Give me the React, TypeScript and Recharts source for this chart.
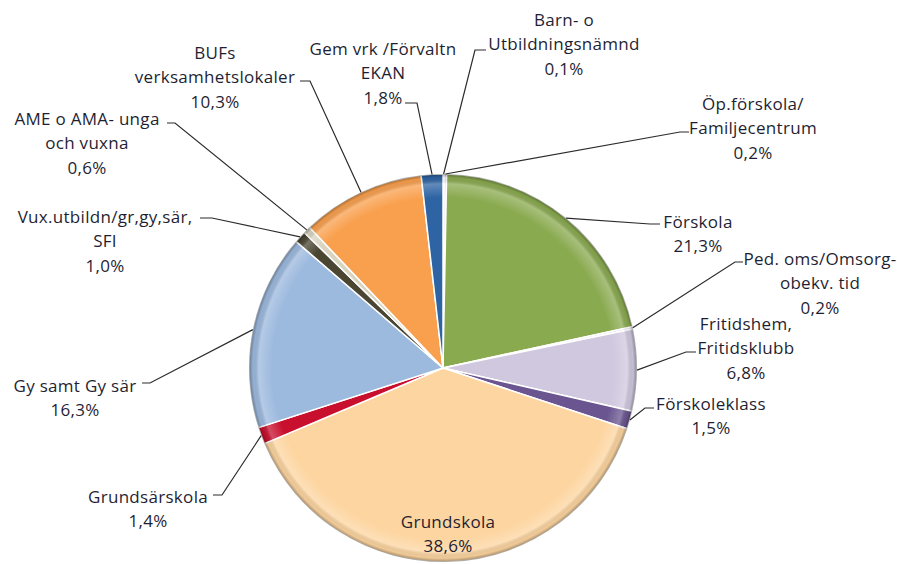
import { PieChart, Pie, Cell } from 'recharts'

const categories = [
  'Barn- o Utbildningsnämnd',
  'Öp.förskola/ Familjecentrum',
  'Förskola',
  'Ped. oms/Omsorg- obekv. tid',
  'Fritidshem, Fritidsklubb',
  'Förskoleklass',
  'Grundskola',
  'Grundsärskola',
  'Gy samt Gy sär',
  'Vux.utbildn/gr,gy,sär, SFI',
  'AME o AMA- unga och vuxna',
  'BUFs verksamhetslokaler',
  'Gem vrk /Förvaltn EKAN',
]

const shares = [0.1, 0.2, 21.3, 0.2, 6.8, 1.5, 38.6, 1.4, 16.3, 1.0, 0.6, 10.3, 1.8]

const labelLines = [
  ['Barn- o', 'Utbildningsnämnd'],
  ['Öp.förskola/', 'Familjecentrum'],
  ['Förskola'],
  ['Ped. oms/Omsorg-', 'obekv. tid'],
  ['Fritidshem,', 'Fritidsklubb'],
  ['Förskoleklass'],
  ['Grundskola'],
  ['Grundsärskola'],
  ['Gy samt Gy sär'],
  ['Vux.utbildn/gr,gy,sär,', 'SFI'],
  ['AME o AMA- unga', 'och vuxna'],
  ['BUFs', 'verksamhetslokaler'],
  ['Gem vrk /Förvaltn', 'EKAN'],
]

const colors = [
  '#ececec', '#dcdcdc', '#8aaa50', '#ebe7f0', '#d0c8df', '#6a5590', '#fdd5a0',
  '#c8102e', '#9cb9de', '#4a4632', '#d8d4bf', '#f9a04e', '#2e64a4',
]

// label placement relative to the pie centre: text centre / first line, elbow, end of the short horizontal
const labelLayout = [
  { tx: 121, ty: -349, ex: 32, ey: -318, hx: 43 },
  { tx: 310, ty: -265, ex: 237, ey: -236, hx: 246 },
  { tx: 255, ty: -147, ex: 207, ey: -144, hx: 217 },
  { tx: 377, ty: -110, ex: 292, ey: -106, hx: 300 },
  { tx: 303, ty: -45, ex: 243, ey: -16, hx: 253 },
  { tx: 268, ty: 35, ex: 202, ey: 40, hx: 211 },
  { tx: 5, ty: 153 },
  { tx: -295, ty: 128, ex: -221, ey: 127, hx: -230 },
  { tx: -368, ty: 17, ex: -293, ey: 15, hx: -301 },
  { tx: -338, ty: -152, ex: -231, ey: -150, hx: -243 },
  { tx: -356, ty: -250, ex: -268, ey: -245, hx: -276 },
  { tx: -228, ty: -316, ex: -133, ey: -287, hx: -143 },
  { tx: -60, ty: -320, ex: -26, ey: -265, hx: -38 },
]

const data = categories.map((name, i) => ({ name, value: shares[i] }))

const CX = 443
const CY = 368
const R = 194
const RAD = Math.PI / 180
const LINE_H = 24.5
const TEXT = '#1f1f33'

const renderLabel = (props: any) => {
  const { cx, cy, midAngle, outerRadius, index } = props
  const lay: any = labelLayout[index]
  const lines = [...labelLines[index], shares[index].toFixed(1).replace('.', ',') + '%']
  const sx = cx + outerRadius * Math.cos(-midAngle * RAD)
  const sy = cy + outerRadius * Math.sin(-midAngle * RAD)
  return (
    <g key={'lbl' + index}>
      {lay.ex !== undefined && (
        <polyline
          points={`${sx},${sy} ${cx + lay.ex},${cy + lay.ey} ${cx + lay.hx},${cy + lay.ey}`}
          fill="none"
          stroke="#2b2b2b"
          strokeWidth={1.2}
        />
      )}
      {lines.map((t, j) => (
        <text
          key={j}
          x={cx + lay.tx}
          y={cy + lay.ty + j * LINE_H}
          textAnchor="middle"
          dominantBaseline="central"
          fill={TEXT}
          fontSize={17}
          letterSpacing={0.3}
          fontFamily="'Open Sans', sans-serif"
        >
          {t}
        </text>
      ))}
    </g>
  )
}

export default function App() {
  return (
    <div style={{ position: 'absolute', left: 0, top: 0, width: 897, height: 564, background: '#fff' }}>
      <PieChart width={897} height={564} margin={{ top: 0, right: 0, bottom: 0, left: 0 }}>
        <defs>
          <radialGradient id="rim" gradientUnits="userSpaceOnUse" cx={CX} cy={CY} r={R}>
            <stop offset="0%" stopColor="#fff" stopOpacity={0} />
            <stop offset="88%" stopColor="#fff" stopOpacity={0} />
            <stop offset="95%" stopColor="#fff" stopOpacity={0.25} />
            <stop offset="98%" stopColor="#000" stopOpacity={0.05} />
            <stop offset="100%" stopColor="#000" stopOpacity={0.35} />
          </radialGradient>
        </defs>
        <Pie
          data={data}
          dataKey="value"
          nameKey="name"
          cx={CX}
          cy={CY}
          outerRadius={R}
          startAngle={90}
          endAngle={-270}
          stroke="#fff"
          strokeWidth={1.5}
          label={renderLabel}
          labelLine={false}
          isAnimationActive={false}
        >
          {data.map((d, i) => (
            <Cell key={d.name} fill={colors[i]} />
          ))}
        </Pie>
        <Pie
          data={data}
          dataKey="value"
          cx={CX}
          cy={CY}
          outerRadius={R}
          startAngle={90}
          endAngle={-270}
          fill="url(#rim)"
          stroke="none"
          isAnimationActive={false}
        />
      </PieChart>
    </div>
  )
}
